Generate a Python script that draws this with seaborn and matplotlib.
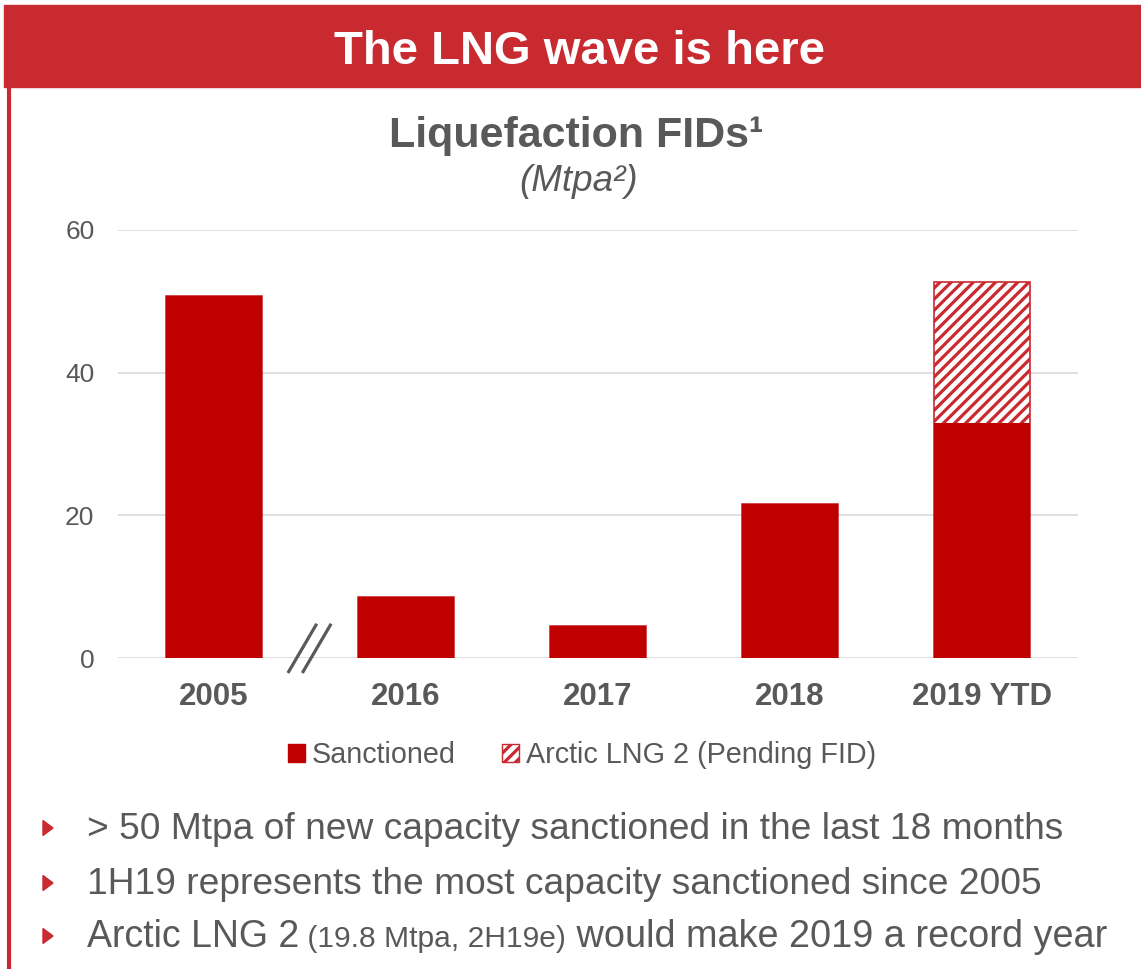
import numpy as np
import pandas as pd
import matplotlib
matplotlib.use("Agg")
import matplotlib.pyplot as plt
from matplotlib.patches import Patch, Rectangle, Polygon
from matplotlib.lines import Line2D
import seaborn as sns

# Data
years = ["2005", "2016", "2017", "2018", "2019 YTD"]
sanctioned = [50.8, 8.6, 4.5, 21.6, 32.9]
arctic_pending = [0.0, 0.0, 0.0, 0.0, 19.8]
y_ticks = [0, 20, 40, 60]

bullets = [
    [("> 50 Mtpa of new capacity sanctioned in the last 18 months", 26.7)],
    [("1H19 represents the most capacity sanctioned since 2005", 26.7)],
    [("Arctic LNG 2", 27), (" (19.8 Mtpa, 2H19e)", 21.6), (" would make 2019 a record year", 27.3)],
]

RED_BAR = "#C00000"
RED_BANNER = "#C92A30"
GRAY = "#595959"
GRID = "#D9D9D9"

W, H = 1141, 969

sns.set_style("white")
plt.rcParams["font.family"] = ["Liberation Sans", "DejaVu Sans"]
plt.rcParams["hatch.linewidth"] = 2.3
plt.rcParams["hatch.color"] = RED_BANNER

df = pd.DataFrame({
    "year": years,
    "sanctioned": sanctioned,
    "total": np.array(sanctioned) + np.array(arctic_pending),
})

fig = plt.figure(figsize=(W / 100, H / 100), dpi=100)
fig.patch.set_facecolor("white")

# banner + left border
fig.patches.append(Rectangle((4 / W, 1 - 87 / H), 1 - 4 / W, 82 / H,
                             transform=fig.transFigure, color=RED_BANNER, zorder=0))
fig.lines.append(Line2D([9 / W, 9 / W], [0, 1 - 87 / H], transform=fig.transFigure,
                        color=RED_BANNER, lw=3))
fig.text(579 / W, 1 - 64 / H, "The LNG wave is here", color="white", fontsize=34,
         fontweight="bold", ha="center", va="baseline")

fig.text(576 / W, 1 - 147 / H, "Liquefaction FIDs\u00b9", color=GRAY, fontsize=31,
         fontweight="bold", ha="center", va="baseline")
fig.text(579 / W, 1 - 191 / H, "(Mtpa\u00b2)", color=GRAY, fontsize=26.5,
         fontstyle="italic", ha="center", va="baseline")

ax = fig.add_axes([118 / W, 311 / H, 960 / W, 428 / H])

# hatched totals first, sanctioned drawn over them
sns.barplot(data=df, x="year", y="total", order=years, color="white", saturation=1,
            width=0.505, edgecolor=RED_BANNER, linewidth=1.2, hatch="///", ax=ax)
sns.barplot(data=df, x="year", y="sanctioned", order=years, color=RED_BAR, saturation=1,
            width=0.505, edgecolor=RED_BAR, linewidth=0, ax=ax)

ax.set_xlim(-0.5, 4.5)
ax.set_ylim(0, 60)
ax.set_yticks(y_ticks)
ax.set_axisbelow(True)
ax.yaxis.grid(True, color=GRID, lw=1.2)
ax.xaxis.grid(False)
sns.despine(ax=ax, left=True, bottom=True)
ax.set_xlabel("")
ax.set_ylabel("")
ax.tick_params(axis="y", length=0, pad=17, labelsize=19, labelcolor=GRAY)
ax.tick_params(axis="x", length=0, pad=17, labelsize=22.5, labelcolor=GRAY)
for lbl in ax.get_xticklabels():
    lbl.set_fontweight("bold")

# axis break marks between 2005 and 2016
for dx in (-0.04, 0.035):
    ax.plot([0.5 + dx - 0.075, 0.5 + dx + 0.075], [-2.1, 4.8], color=GRAY, lw=2.3,
            clip_on=False, solid_capstyle="butt", zorder=5)

handles = [
    Patch(facecolor=RED_BAR, edgecolor=RED_BAR, label="Sanctioned"),
    Patch(facecolor="white", edgecolor=RED_BANNER, hatch="///", label="Arctic LNG 2 (Pending FID)"),
]
leg = fig.legend(handles=handles, loc="center", bbox_to_anchor=(582 / W, 1 - 755 / H),
                 ncol=2, frameon=False, fontsize=20.7, handlelength=0.6, handleheight=0.6,
                 handletextpad=0.25, columnspacing=1.6)
for t in leg.get_texts():
    t.set_color(GRAY)

# bullet list
renderer = fig.canvas.get_renderer()
baselines = [839, 894, 947]
for runs, base in zip(bullets, baselines):
    cy = base - 11
    fig.patches.append(Polygon([(43 / W, 1 - (cy - 7.5) / H), (53 / W, 1 - cy / H),
                                (43 / W, 1 - (cy + 7.5) / H)], closed=True,
                               transform=fig.transFigure, color=RED_BANNER))
    x = 87
    for s, size in runs:
        t = fig.text(x / W, 1 - base / H, s, fontsize=size, color=GRAY,
                     ha="left", va="baseline")
        x += t.get_window_extent(renderer).width

fig.savefig("out.png", dpi=100)
